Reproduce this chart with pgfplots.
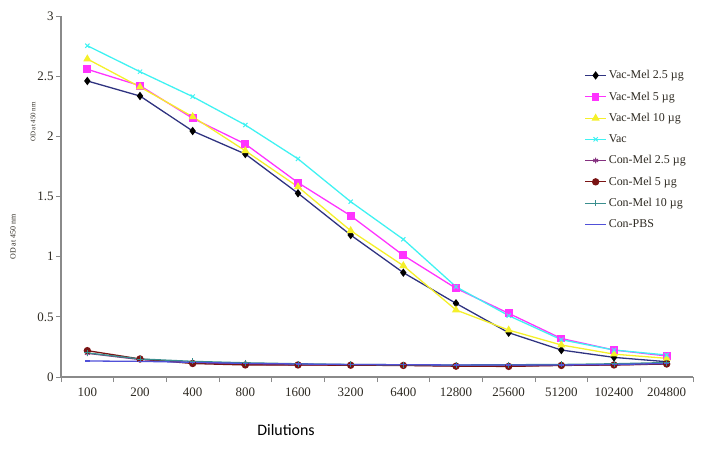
\documentclass[border=0pt]{standalone}
\usepackage{pgfplots}
\pgfplotsset{compat=1.18}
\usepackage{fontspec}
\setmainfont{Liberation Serif}
\newfontfamily\calibri{Carlito}
\usetikzlibrary{plotmarks}

\definecolor{sNavy}{HTML}{2F3380}
\definecolor{sMag}{HTML}{FF33FF}
\definecolor{sYel}{HTML}{F5F02A}
\definecolor{sCyan}{HTML}{40F2F2}
\definecolor{sPurp}{HTML}{84307F}
\definecolor{sRed}{HTML}{7A1414}
\definecolor{sTeal}{HTML}{3A8E8E}
\definecolor{sBlue}{HTML}{5050D8}
\definecolor{axgray}{HTML}{8A8A8A}
\definecolor{txt}{HTML}{2E2A22}

\begin{document}
\begin{tikzpicture}
\begin{axis}[
  name=ax,
  scale only axis,
  width=632bp, height=361bp,
  xmin=-0.5, xmax=11.5, ymin=0, ymax=3,
  axis x line=bottom, axis y line=left,
  axis line style={-, axgray, line width=1.1pt},
  xtick={0,...,11},
  xticklabels={\textrm{100},\textrm{200},\textrm{400},\textrm{800},\textrm{1600},\textrm{3200},\textrm{6400},\textrm{12800},\textrm{25600},\textrm{51200},\textrm{102400},\textrm{204800}},
  minor xtick={-0.5,0.5,...,11.5},
  major x tick style={draw=none},
  minor tick length=5bp,
  major tick length=5bp,
  tick align=outside,
  tick style={axgray, line width=0.9pt},
  ytick={0,0.5,...,3},
  yticklabels={\textrm{0},\textrm{0.5},\textrm{1},\textrm{1.5},\textrm{2},\textrm{2.5},\textrm{3}},
  /pgf/number format/assume math mode=true,
  ticklabel style={font=\fontsize{13}{15}\selectfont, text=txt},
  xticklabel style={yshift=-2bp},
  yticklabel style={xshift=1bp},
  legend cell align=left,
  legend style={draw=none, fill=none, at={(rel axis cs:0.828,0.855)}, anchor=north west,
    font=\fontsize{12}{14}\selectfont, text=txt,
    row sep=7.6bp, inner sep=0pt},
  legend image code/.code={\draw[mark repeat=2,mark phase=2] plot coordinates {(0bp,0bp)(10.5bp,0bp)(21bp,0bp)};},
  every axis plot/.append style={line width=1.3pt},
  clip=false,
]
\addplot[sNavy, mark=diamond*, mark size=3.2bp, mark options={fill=black, draw=black}] coordinates {
(0,2.46)(1,2.335)(2,2.044)(3,1.853)(4,1.527)(5,1.18)(6,0.867)(7,0.612)(8,0.368)(9,0.224)(10,0.163)(11,0.127)};
\addplot[sMag, mark=square*, mark size=3.2bp] coordinates {
(0,2.557)(1,2.421)(2,2.15)(3,1.936)(4,1.615)(5,1.34)(6,1.011)(7,0.737)(8,0.529)(9,0.32)(10,0.224)(11,0.175)};
\addplot[sYel, mark=triangle*, mark size=3.4bp] coordinates {
(0,2.643)(1,2.41)(2,2.163)(3,1.88)(4,1.58)(5,1.216)(6,0.925)(7,0.557)(8,0.39)(9,0.266)(10,0.19)(11,0.155)};
\addplot[sCyan, mark=x, mark size=3bp, mark options={line width=1pt}] coordinates {
(0,2.753)(1,2.537)(2,2.33)(3,2.094)(4,1.813)(5,1.457)(6,1.144)(7,0.75)(8,0.51)(9,0.31)(10,0.224)(11,0.183)};
\addplot[sPurp, mark=asterisk, mark size=2.8bp, mark options={line width=0.9pt}] coordinates {
(0,0.197)(1,0.145)(2,0.12)(3,0.105)(4,0.1)(5,0.1)(6,0.098)(7,0.092)(8,0.092)(9,0.098)(10,0.1)(11,0.11)};
\addplot[sRed, mark=*, mark size=3bp] coordinates {
(0,0.219)(1,0.15)(2,0.112)(3,0.1)(4,0.1)(5,0.098)(6,0.096)(7,0.09)(8,0.088)(9,0.096)(10,0.1)(11,0.108)};
\addplot[sTeal, mark=+, mark size=3bp, mark options={line width=0.9pt}] coordinates {
(0,0.2)(1,0.15)(2,0.13)(3,0.118)(4,0.11)(5,0.104)(6,0.102)(7,0.1)(8,0.102)(9,0.104)(10,0.11)(11,0.12)};
\addplot[sBlue, mark=-, mark size=2.5bp] coordinates {
(0,0.133)(1,0.13)(2,0.122)(3,0.113)(4,0.108)(5,0.104)(6,0.102)(7,0.1)(8,0.1)(9,0.1)(10,0.104)(11,0.112)};
\legend{Vac-Mel 2.5 µg, Vac-Mel 5 µg, Vac-Mel 10 µg, Vac, Con-Mel 2.5 µg, Con-Mel 5 µg, Con-Mel 10 µg, Con-PBS}
\end{axis}
\path (ax.south west) ++(-61bp,-74bp) rectangle ++(703bp,451bp);
\node[font=\calibri\fontsize{16}{18}\selectfont, text=black] at ([xshift=225bp,yshift=-53bp]ax.south west) {Dilutions};
\node[rotate=90, font=\fontsize{7}{8}\selectfont, text=txt] at ([xshift=-28bp,yshift=255bp]ax.south west) {OD at 450 nm};
\node[rotate=90, font=\fontsize{8}{9}\selectfont, text=txt] at ([xshift=-48bp,yshift=140bp]ax.south west) {OD at 450 nm};
\end{tikzpicture}
\end{document}
